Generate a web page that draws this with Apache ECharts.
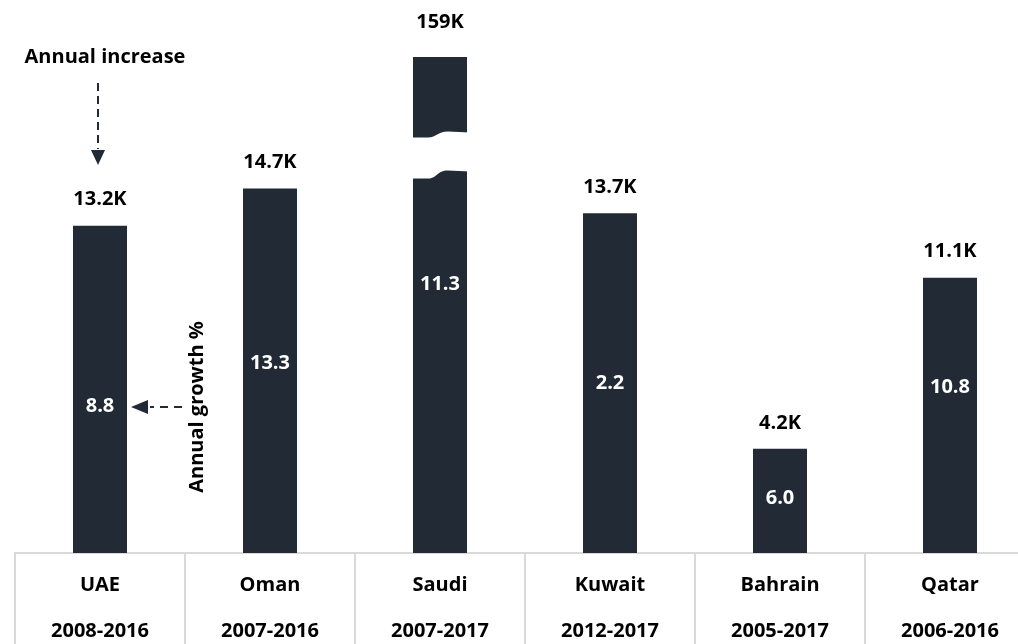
<!DOCTYPE html>
<html>
<head>
<meta charset="utf-8">
<script src="https://cdn.jsdelivr.net/npm/echarts@6/dist/echarts.min.js"></script>
<style>
  html, body { margin: 0; padding: 0; background: #fff; overflow: hidden; }
  /* last table column runs past the right edge in the source, so the canvas is wider than the window */
  #chart { width: 1040px; height: 644px; }
</style>
</head>
<body>
<div id="chart"></div>
<script>
  const countries = ['UAE', 'Oman', 'Saudi', 'Kuwait', 'Bahrain', 'Qatar'];
  const periods = ['2008-2016', '2007-2016', '2007-2017', '2012-2017', '2005-2017', '2006-2016'];
  const annualIncreaseK = [13.2, 14.7, 159, 13.7, 4.2, 11.1];
  const annualGrowthPct = [8.8, 13.3, 11.3, 2.2, 6.0, 10.8];

  // bars taller than the cap get drawn with a break
  const axisCap = 20;
  const breakFrom = 15.1;
  const breakTo = 17.0;

  const barColor = '#222A35';
  const font = 'Open Sans';

  // little nudges for the growth labels inside bars (px)
  const growthShift = [17, -7, -21, 0, -3, -28];

  const shown = annualIncreaseK.map(v => Math.min(v, axisCap));

  const chart = echarts.init(document.getElementById('chart'));

  const option = {
    animation: false,
    textStyle: { fontFamily: font },
    grid: { left: 15, width: 1020, top: 57, bottom: 91 },
    xAxis: {
      type: 'category',
      data: countries,
      axisLine: { show: true, lineStyle: { color: '#d9d9d9', width: 2 } },
      axisTick: { show: true, length: 100, lineStyle: { color: '#d9d9d9', width: 2 } },
      axisLabel: {
        interval: 0,
        margin: 9,
        formatter: (val, idx) => '{c|' + val + '}\n{y|' + periods[idx] + '}',
        rich: {
          c: { fontFamily: font, fontSize: 20, fontWeight: 'bold', color: '#000', lineHeight: 46 },
          y: { fontFamily: font, fontSize: 20, fontWeight: 'bold', color: '#000', lineHeight: 46 },
        },
      },
    },
    yAxis: { type: 'value', min: 0, max: axisCap, show: false },
    series: [
      {
        name: 'Annual growth %',
        type: 'bar',
        barWidth: 54,
        data: shown.map((v, i) => ({
          value: v,
          label: { offset: [0, growthShift[i]] },
        })),
        itemStyle: { color: barColor },
        label: {
          show: true,
          position: 'inside',
          color: '#fff',
          fontSize: 20,
          fontWeight: 'bold',
          fontFamily: font,
          formatter: p => annualGrowthPct[p.dataIndex].toFixed(1),
        },
      },
      {
        name: 'Annual increase',
        type: 'bar',
        barWidth: 54,
        barGap: '-100%',
        data: shown.map((v, i) => ({
          value: v,
          label: { distance: annualIncreaseK[i] > axisCap ? 25 : 16 },
        })),
        itemStyle: { color: 'rgba(0,0,0,0)' },
        label: {
          show: true,
          position: 'top',
          color: '#000',
          fontSize: 20,
          fontWeight: 'bold',
          fontFamily: font,
          formatter: p => annualIncreaseK[p.dataIndex] + 'K',
        },
      },
      {
        // white wavy gap across the broken bar
        type: 'custom',
        z: 5,
        silent: true,
        data: annualIncreaseK
          .map((v, i) => (v > axisCap ? [i, breakFrom, breakTo] : null))
          .filter(d => d),
        renderItem: (params, api) => {
          const top = api.coord([api.value(0), api.value(2)]);
          const bot = api.coord([api.value(0), api.value(1)]);
          const cx = top[0];
          const x0 = cx - 30;
          const x1 = cx + 30;
          const t = top[1];
          const b = bot[1];
          const d =
            'M' + x0 + ' ' + (t + 6) +
            ' L' + (cx - 12) + ' ' + (t + 6) +
            ' C' + (cx - 3) + ' ' + (t + 6) + ' ' + (cx - 3) + ' ' + t + ' ' + (cx + 8) + ' ' + t +
            ' L' + x1 + ' ' + (t + 1) +
            ' L' + x1 + ' ' + (b - 7) +
            ' L' + (cx + 8) + ' ' + (b - 8) +
            ' C' + (cx - 3) + ' ' + (b - 8) + ' ' + (cx - 3) + ' ' + b + ' ' + (cx - 12) + ' ' + b +
            ' L' + x0 + ' ' + b + ' Z';
          return { type: 'path', shape: { pathData: d }, style: { fill: '#fff' } };
        },
      },
    ],
    graphic: [
      {
        type: 'text',
        x: 105,
        y: 57,
        style: {
          text: 'Annual increase',
          fontFamily: font,
          fontSize: 20,
          fontWeight: 'bold',
          fill: '#000',
          align: 'center',
          verticalAlign: 'middle',
        },
      },
      {
        type: 'line',
        shape: { x1: 98, y1: 83, x2: 98, y2: 149 },
        style: { stroke: barColor, lineWidth: 2, lineDash: [8, 5] },
      },
      {
        type: 'polygon',
        shape: { points: [[91, 150], [105, 150], [98, 165]] },
        style: { fill: barColor },
      },
      {
        type: 'text',
        x: 197,
        y: 407,
        rotation: Math.PI / 2,
        style: {
          text: 'Annual growth %',
          fontFamily: font,
          fontSize: 20,
          fontWeight: 'bold',
          fill: '#000',
          align: 'center',
          verticalAlign: 'middle',
        },
      },
      {
        type: 'line',
        shape: { x1: 182, y1: 407, x2: 150, y2: 407 },
        style: { stroke: barColor, lineWidth: 2, lineDash: [8, 6] },
      },
      {
        type: 'polygon',
        shape: { points: [[148, 400], [148, 414], [131, 407]] },
        style: { fill: barColor },
      },
    ],
  };

  chart.setOption(option);
</script>
</body>
</html>
